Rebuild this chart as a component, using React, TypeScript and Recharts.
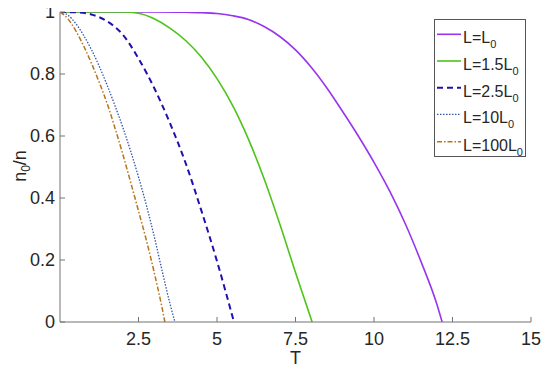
import React from 'react';
import { LineChart, Line, XAxis, YAxis, Legend } from 'recharts';

// T values and n0/n values per series
const T_L1 = [0, 3, 4, 4.5, 5, 5.5, 6, 6.5, 7, 7.5, 8, 8.5, 9, 9.5, 10, 10.5, 11, 11.5, 12, 12.17];
const N_L1 = [1, 1, 0.999, 0.998, 0.995, 0.988, 0.976, 0.953, 0.921, 0.878, 0.822, 0.755, 0.679, 0.6, 0.515, 0.422, 0.316, 0.194, 0.058, 0];

const T_L15 = [0, 2, 2.5, 3, 3.5, 4, 4.5, 5, 5.5, 6, 6.5, 7, 7.5, 8.03];
const N_L15 = [1, 1, 0.996, 0.978, 0.948, 0.908, 0.855, 0.785, 0.698, 0.59, 0.462, 0.316, 0.16, 0];

const T_L25 = [0, 0.5, 1, 1.5, 2, 2.5, 3, 3.5, 4, 4.5, 5, 5.54];
const N_L25 = [1, 0.999, 0.992, 0.97, 0.927, 0.85, 0.755, 0.642, 0.513, 0.36, 0.196, 0];

const T_L10 = [0, 0.25, 0.5, 0.75, 1, 1.25, 1.5, 1.75, 2, 2.25, 2.5, 2.75, 3, 3.25, 3.5, 3.66];
const N_L10 = [1, 0.99, 0.963, 0.925, 0.879, 0.825, 0.764, 0.698, 0.628, 0.551, 0.468, 0.377, 0.276, 0.166, 0.06, 0];

const T_L100 = [0, 0.25, 0.5, 0.75, 1, 1.25, 1.5, 1.75, 2, 2.25, 2.5, 2.75, 3, 3.25, 3.34];
const N_L100 = [1, 0.978, 0.94, 0.891, 0.835, 0.773, 0.705, 0.626, 0.541, 0.451, 0.358, 0.264, 0.16, 0.046, 0];

const X_TICKS = [2.5, 5, 7.5, 10, 12.5, 15];
const X_TICK_LABELS = ['2.5', '5', '7.5', '10', '12.5', '15'];
const Y_TICKS = [0, 0.2, 0.4, 0.6, 0.8, 1];
const Y_TICK_LABELS = ['0', '0.2', '0.4', '0.6', '0.8', '1'];

const LEGEND_MAIN = ['L=L', 'L=1.5L', 'L=2.5L', 'L=10L', 'L=100L'];
const LEGEND_SUB = '0';

const build = (ts: number[], ns: number[]) => ts.map((t, i) => ({ T: t, v: ns[i] }));

const FONT = '"Liberation Sans", Arial, sans-serif';
const AXIS = '#737373';
const TEXT = '#262626';
const FS = 18;

const SERIES = [
  { data: build(T_L1, N_L1), color: '#9933EE', dash: undefined as string | undefined, width: 1.6 },
  { data: build(T_L15, N_L15), color: '#4DC41A', dash: undefined, width: 1.6 },
  { data: build(T_L25, N_L25), color: '#2010B0', dash: '6 4', width: 2 },
  { data: build(T_L10, N_L10), color: '#3355AA', dash: '1.5 1.5', width: 1.3 },
  { data: build(T_L100, N_L100), color: '#B8741A', dash: '5 2 1.5 2', width: 1.5 },
];

const BottomTick = (props: any) => {
  const { x, y, payload } = props;
  const idx = X_TICKS.indexOf(payload.value);
  return (
    <g>
      <line x1={x} y1={y} x2={x} y2={y - 5} stroke={AXIS} strokeWidth={1} />
      <text x={x} y={y + 23} textAnchor="middle" fontSize={FS} fontFamily={FONT} fill={TEXT}>
        {idx >= 0 ? X_TICK_LABELS[idx] : ''}
      </text>
    </g>
  );
};

const TopTick = (props: any) => {
  const { x, y } = props;
  return <line x1={x} y1={y} x2={x} y2={y + 5} stroke={AXIS} strokeWidth={1} />;
};

const LeftTick = (props: any) => {
  const { x, y, payload } = props;
  const idx = Y_TICKS.indexOf(payload.value);
  return (
    <g>
      <line x1={x} y1={y} x2={x + 5} y2={y} stroke={AXIS} strokeWidth={1} />
      <text x={x - 5} y={y} dy="0.36em" textAnchor="end" fontSize={FS} fontFamily={FONT} fill={TEXT}>
        {idx >= 0 ? Y_TICK_LABELS[idx] : ''}
      </text>
    </g>
  );
};

const RightTick = (props: any) => {
  const { x, y } = props;
  return <line x1={x} y1={y} x2={x - 5} y2={y} stroke={AXIS} strokeWidth={1} />;
};

const LegendBox = () => {
  const ys = [15.3, 42, 68.7, 95.3, 122.7];
  return (
    <svg width={92} height={138} style={{ display: 'block', overflow: 'visible' }}>
      <rect x={0.5} y={0.5} width={91} height={137} fill="#ffffff" stroke="#555555" strokeWidth={1} />
      {SERIES.map((s, i) => (
        <g key={i}>
          <line x1={3} y1={ys[i]} x2={27} y2={ys[i]} stroke={s.color} strokeWidth={s.width} strokeDasharray={s.dash} />
          <text x={29} y={ys[i] + 9} fontSize={16} fontFamily={FONT} fill={TEXT}>
            {LEGEND_MAIN[i]}
            <tspan dy={5} fontSize={11}>{LEGEND_SUB}</tspan>
          </text>
        </g>
      ))}
    </svg>
  );
};

const YLabel = () => (
  <text transform="translate(26,166) rotate(-90)" textAnchor="middle" fontSize={FS} fontFamily={FONT} fill={TEXT}>
    n<tspan dy={4} fontSize={12}>0</tspan>
    <tspan dy={-4}>/n</tspan>
  </text>
);

const XLabel = () => (
  <text x={295.5} y={364} textAnchor="middle" fontSize={FS} fontFamily={FONT} fill={TEXT}>
    T
  </text>
);

export default function App() {
  return (
    <div style={{ width: 550, height: 370, position: 'relative', background: '#fff', margin: '-8px 0 0 -8px' }}>
      <LineChart width={550} height={370} margin={{ top: 12, right: 19, left: 0, bottom: 0 }}>
        <XAxis
          dataKey="T"
          type="number"
          domain={[0, 15]}
          ticks={X_TICKS}
          height={48}
          tickSize={0}
          tickMargin={0}
          tickLine={false}
          axisLine={{ stroke: AXIS }}
          tick={<BottomTick />}
          interval={0}
          allowDataOverflow
          label={{ content: () => <XLabel /> }}
        />
        <XAxis
          xAxisId="top"
          orientation="top"
          type="number"
          domain={[0, 15]}
          ticks={X_TICKS}
          height={0}
          tickSize={0}
          tickMargin={0}
          tickLine={false}
          axisLine={{ stroke: AXIS }}
          tick={<TopTick />}
          interval={0}
          allowDataOverflow
        />
        <YAxis
          type="number"
          domain={[0, 1]}
          ticks={Y_TICKS}
          width={60}
          tickSize={0}
          tickMargin={0}
          tickLine={false}
          axisLine={{ stroke: AXIS }}
          tick={<LeftTick />}
          interval={0}
          allowDataOverflow
          label={{ content: () => <YLabel /> }}
        />
        <YAxis
          yAxisId="right"
          orientation="right"
          type="number"
          domain={[0, 1]}
          ticks={Y_TICKS}
          width={0}
          tickSize={0}
          tickMargin={0}
          tickLine={false}
          axisLine={{ stroke: AXIS }}
          tick={<RightTick />}
          interval={0}
          allowDataOverflow
        />
        {SERIES.map((s, i) => (
          <Line
            key={i}
            data={s.data}
            dataKey="v"
            type="monotone"
            stroke={s.color}
            strokeWidth={s.width}
            strokeDasharray={s.dash}
            dot={false}
            activeDot={false}
            isAnimationActive={false}
            name={LEGEND_MAIN[i] + LEGEND_SUB}
          />
        ))}
        <Legend
          layout="vertical"
          align="center"
          verticalAlign="middle"
          wrapperStyle={{ position: 'absolute', left: 434, top: 19, width: 92, height: 138 }}
          content={() => <LegendBox />}
        />
      </LineChart>
    </div>
  );
}
